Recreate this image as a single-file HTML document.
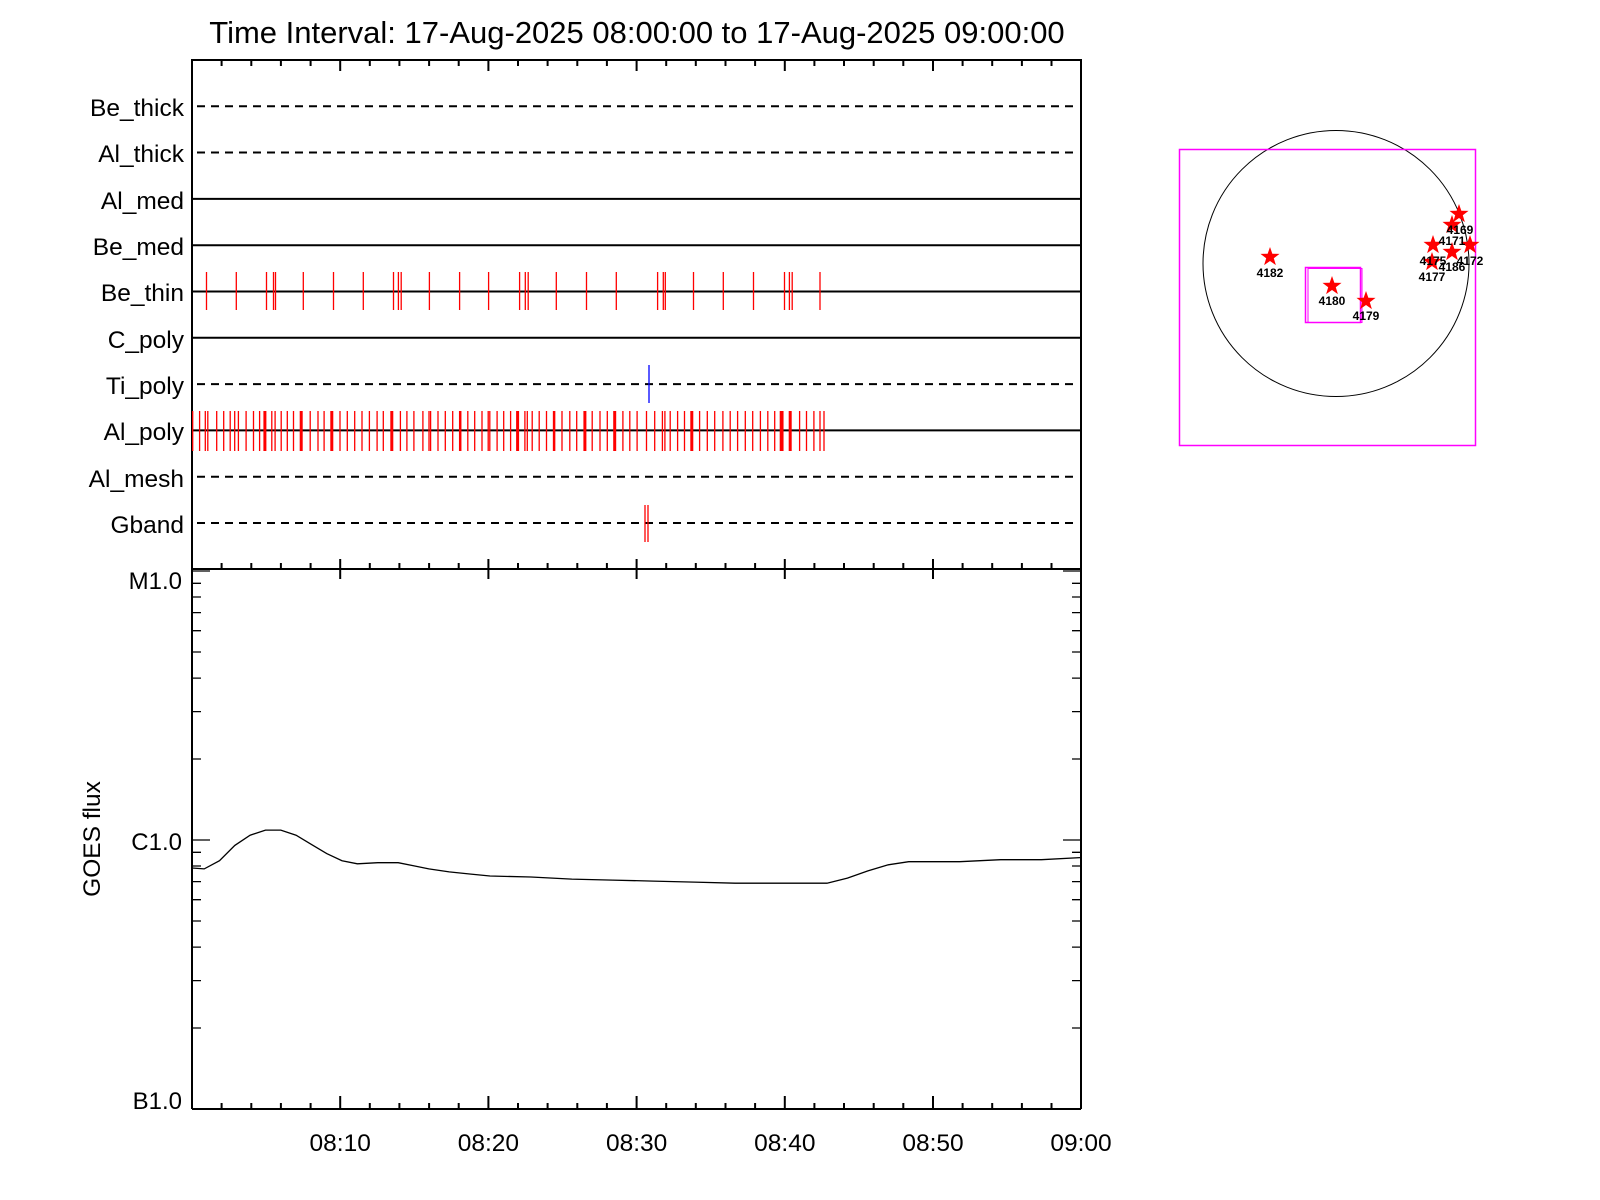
<!DOCTYPE html>
<html><head><meta charset="utf-8"><style>
html,body{margin:0;padding:0;background:#fff;width:1600px;height:1200px;overflow:hidden}
svg{display:block}
text{font-family:"Liberation Sans",sans-serif;fill:#000}
</style></head><body>
<svg width="1600" height="1200" viewBox="0 0 1600 1200" xmlns="http://www.w3.org/2000/svg">
<text x="637" y="43" font-size="31" text-anchor="middle">Time Interval: 17-Aug-2025 08:00:00 to 17-Aug-2025 09:00:00</text>

<g stroke="#000" stroke-width="2" fill="none">
<rect x="192" y="60" width="889" height="509"/>
<line x1="192" y1="1109" x2="1081" y2="1109"/>
<line x1="192" y1="569" x2="192" y2="1109"/>
<line x1="1081" y1="569" x2="1081" y2="1109"/>
</g>

<g stroke="#000" stroke-width="2">
<path d="M221.6 60v6M251.3 60v6M280.9 60v6M310.6 60v6M369.8 60v6M399.4 60v6M429.1 60v6M458.7 60v6M518 60v6M547.6 60v6M577.3 60v6M606.9 60v6M666.2 60v6M695.8 60v6M725.5 60v6M755.1 60v6M814.4 60v6M844 60v6M873.7 60v6M903.3 60v6M962.6 60v6M992.2 60v6M1021.9 60v6M1051.5 60v6"/>
<path d="M340.2 60v11M488.4 60v11M636.6 60v11M784.8 60v11M933 60v11"/>
<path d="M221.6 569v-6M251.3 569v-6M280.9 569v-6M310.6 569v-6M369.8 569v-6M399.4 569v-6M429.1 569v-6M458.7 569v-6M518 569v-6M547.6 569v-6M577.3 569v-6M606.9 569v-6M666.2 569v-6M695.8 569v-6M725.5 569v-6M755.1 569v-6M814.4 569v-6M844 569v-6M873.7 569v-6M903.3 569v-6M962.6 569v-6M992.2 569v-6M1021.9 569v-6M1051.5 569v-6"/>
<path d="M340.2 559v20M488.4 559v20M636.6 559v20M784.8 559v20M933 559v20M1081 559v20"/>
<path d="M221.6 1109v-6M251.3 1109v-6M280.9 1109v-6M310.6 1109v-6M369.8 1109v-6M399.4 1109v-6M429.1 1109v-6M458.7 1109v-6M518 1109v-6M547.6 1109v-6M577.3 1109v-6M606.9 1109v-6M666.2 1109v-6M695.8 1109v-6M725.5 1109v-6M755.1 1109v-6M814.4 1109v-6M844 1109v-6M873.7 1109v-6M903.3 1109v-6M962.6 1109v-6M992.2 1109v-6M1021.9 1109v-6M1051.5 1109v-6"/>
<path d="M340.2 1109v-13M488.4 1109v-13M636.6 1109v-13M784.8 1109v-13M933 1109v-13"/>
</g>

<g stroke="#000" stroke-width="2" fill="none">
<line x1="197" y1="106.3" x2="1079" y2="106.3" stroke-dasharray="8 6"/>
<line x1="197" y1="152.5" x2="1079" y2="152.5" stroke-dasharray="8 6"/>
<line x1="192" y1="198.9" x2="1081" y2="198.9"/>
<line x1="192" y1="245.2" x2="1081" y2="245.2"/>
<line x1="192" y1="291.5" x2="1081" y2="291.5"/>
<line x1="192" y1="337.8" x2="1081" y2="337.8"/>
<line x1="197" y1="384.1" x2="1079" y2="384.1" stroke-dasharray="8 6"/>
<line x1="192" y1="430.4" x2="1081" y2="430.4"/>
<line x1="197" y1="476.7" x2="1079" y2="476.7" stroke-dasharray="8 6"/>
<line x1="197" y1="523" x2="1079" y2="523" stroke-dasharray="8 6"/>
</g>

<g font-size="24.5" text-anchor="end">
<text x="184" y="116">Be_thick</text>
<text x="184" y="162">Al_thick</text>
<text x="184" y="209">Al_med</text>
<text x="184" y="255">Be_med</text>
<text x="184" y="301">Be_thin</text>
<text x="184" y="348">C_poly</text>
<text x="184" y="394">Ti_poly</text>
<text x="184" y="440">Al_poly</text>
<text x="184" y="487">Al_mesh</text>
<text x="184" y="533">Gband</text>
</g>

<path stroke="#f00" stroke-width="1.3" d="M206.5 272V310M236.3 272V310M266.5 272V310M273.5 272V310M275.5 272V310M303.3 272V310M333.5 272V310M363.3 272V310M393.5 272V310M398.4 272V310M401.2 272V310M429.4 272V310M459.6 272V310M488.6 272V310M519.6 272V310M525.3 272V310M528.2 272V310M556.3 272V310M586.5 272V310M616.3 272V310M657.6 272V310M663.3 272V310M665.3 272V310M693.5 272V310M723.3 272V310M753.5 272V310M784.5 272V310M789.4 272V310M792.2 272V310M820 272V310"/>
<path stroke="#00f" stroke-width="1.3" d="M649 365V403"/>
<path stroke="#f00" stroke-width="1.3" d="M192.7 411V451M199.6 411V451M205.3 411V451M207.8 411V451M216.7 411V451M223.7 411V451M230.2 411V451M234.7 411V451M238.4 411V451M246.1 411V451M253.5 411V451M259.6 411V451M271.8 411V451M275.1 411V451M281.2 411V451M287.3 411V451M293.5 411V451M310.2 411V451M318 411V451M324.1 411V451M340 411V451M347.3 411V451M354.7 411V451M362 411V451M369.4 411V451M377.1 411V451M383.3 411V451M400.4 411V451M406.9 411V451M413.9 411V451M422.9 411V451M429 411V451M430.6 411V451M438 411V451M445.3 411V451M452.7 411V451M459.6 411V451M460.8 411V451M467.8 411V451M474.7 411V451M482 411V451M488.2 411V451M489.8 411V451M497.1 411V451M503.7 411V451M510.6 411V451M524.9 411V451M527.3 411V451M532.2 411V451M539.2 411V451M546.5 411V451M553.5 411V451M554.7 411V451M562 411V451M569.8 411V451M576.7 411V451M592.2 411V451M600 411V451M607.3 411V451M622.9 411V451M629.8 411V451M637.1 411V451M646.5 411V451M654.7 411V451M662.4 411V451M664.9 411V451M670.2 411V451M677.6 411V451M684.5 411V451M699.6 411V451M707.3 411V451M714.7 411V451M722.9 411V451M730.2 411V451M737.6 411V451M745.3 411V451M752.7 411V451M760.4 411V451M767.8 411V451M774.7 411V451M782.9 411V451M799.6 411V451M806.5 411V451M813.9 411V451M820 411V451M824 411V451"/>
<path stroke="#f00" stroke-width="3" d="M264.9 411V451M301.2 411V451M331.8 411V451M391.8 411V451M517.6 411V451M584.9 411V451M614.7 411V451M691.8 411V451M781.2 411V451M790.2 411V451"/>
<path stroke="#f00" stroke-width="1.3" d="M645 505V542M648 505V542"/>

<g stroke="#000" stroke-width="1.3">
<path d="M192 571h18M192 840h18M1081 571h-18M1081 840h-18"/>
<path d="M192 1028h9M192 980.6h9M192 947.1h9M192 921h9M192 899.7h9M192 881.6h9M192 866h9M192 852.3h9M192 759h9M192 711.6h9M192 678.1h9M192 652h9M192 630.7h9M192 612.6h9M192 597h9M192 583.3h9"/>
<path d="M1081 1028h-9M1081 980.6h-9M1081 947.1h-9M1081 921h-9M1081 899.7h-9M1081 881.6h-9M1081 866h-9M1081 852.3h-9M1081 759h-9M1081 711.6h-9M1081 678.1h-9M1081 652h-9M1081 630.7h-9M1081 612.6h-9M1081 597h-9M1081 583.3h-9"/>
</g>
<g font-size="24" text-anchor="end">
<text x="182" y="589">M1.0</text>
<text x="182" y="850">C1.0</text>
<text x="182" y="1109">B1.0</text>
</g>
<text transform="translate(100 839) rotate(-90)" font-size="24.5" text-anchor="middle">GOES flux</text>

<polyline fill="none" stroke="#000" stroke-width="1.3" points="192,868 204.2,868.9 219.5,860.7 234.8,845.4 250.1,835.2 265.5,830.1 280.8,830.1 296.1,835.2 311.4,844.4 326.7,853.6 342,860.7 357.4,863.8 377.8,862.7 398.2,862.7 413.5,865.8 428.8,868.9 449.2,871.9 469.7,874 490,876 530.9,877 571.8,879.1 612.6,880.1 653.4,881.1 694.3,882.1 735.1,883.2 827,883.2 847.4,878.1 867.9,870.9 888.3,864.8 908.7,861.7 959.7,861.7 1000.6,859.7 1041.4,859.7 1080,857.6"/>

<g font-size="24.5" text-anchor="middle">
<text x="340.2" y="1151">08:10</text>
<text x="488.4" y="1151">08:20</text>
<text x="636.6" y="1151">08:30</text>
<text x="784.8" y="1151">08:40</text>
<text x="933" y="1151">08:50</text>
<text x="1081" y="1151">09:00</text>
</g>

<circle cx="1336" cy="263.5" r="133" fill="none" stroke="#000" stroke-width="1"/>
<rect x="1179.5" y="149.5" width="296" height="296" fill="none" stroke="#f0f" stroke-width="1.5"/>
<rect x="1305.5" y="267.5" width="55" height="55" fill="none" stroke="#f0f" stroke-width="1.5"/>
<rect x="1308" y="268.5" width="54" height="54" fill="none" stroke="#f0f" stroke-width="1"/>
<defs><polygon id="st" fill="#f00" points="0,-10 2.35,-3.24 9.51,-3.09 3.8,1.24 5.88,8.09 0,4 -5.88,8.09 -3.8,1.24 -9.51,-3.09 -2.35,-3.24"/></defs>
<use href="#st" x="1270" y="257"/>
<use href="#st" x="1332" y="286"/>
<use href="#st" x="1366" y="301"/>
<use href="#st" x="1459" y="214"/>
<use href="#st" x="1452" y="225"/>
<use href="#st" x="1433" y="245"/>
<use href="#st" x="1470" y="245"/>
<use href="#st" x="1452" y="252"/>
<use href="#st" x="1432" y="262"/>
<g font-size="12" text-anchor="middle" font-weight="bold">
<text x="1270" y="277">4182</text>
<text x="1332" y="305">4180</text>
<text x="1366" y="320">4179</text>
<text x="1460" y="234">4169</text>
<text x="1452" y="245">4171</text>
<text x="1433" y="265">4175</text>
<text x="1470" y="265">4172</text>
<text x="1452" y="271">4186</text>
<text x="1432" y="281">4177</text>
</g>
</svg>
</body></html>
